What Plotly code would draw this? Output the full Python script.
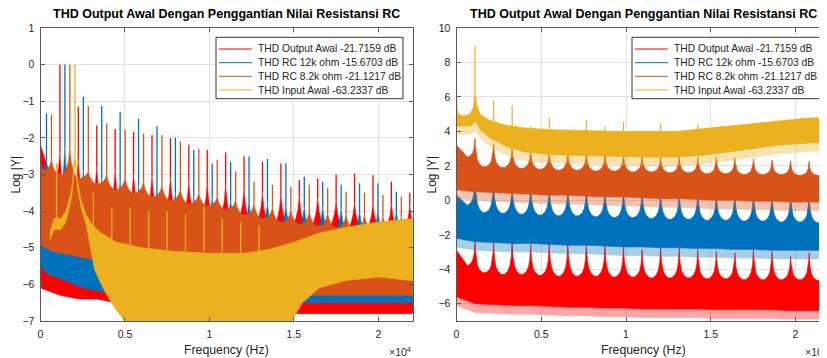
import plotly.graph_objects as go

# ------------------------------------------------------------------ text / categories
TITLE = "THD Output Awal Dengan Penggantian Nilai Resistansi RC"
SERIES_NAMES = ["THD Output Awal -21.7159 dB", "THD RC 12k ohm -15.6703 dB",
                "THD RC 8.2k ohm -21.1217 dB", "THD Input Awal -63.2337 dB"]
X_TICK_VALS = [0, 5000, 10000, 15000, 20000]
X_TICK_TEXT = ["0", "0.5", "1", "1.5", "2"]
L_Y_TICKS = [-7, -6, -5, -4, -3, -2, -1, 0, 1]
R_Y_TICKS = [-6, -4, -2, 0, 2, 4, 6, 8, 10]
F_MAX = 22050

# ------------------------------------------------------------------ LEFT panel data (log|Y|)
# red : THD Output Awal
L_RED_H = [1150, 2240, 3330, 4420, 5510, 6600, 7690, 8780, 9870, 10960,
           12050, 13140, 14230, 15320, 16410, 17500, 18590, 19680, 20770, 21860]
L_RED_SPIKE = [0.0, -1.15, -1.66, -1.76, -1.83, -1.92, -2.01, -2.19, -2.33, -2.40,
               -2.50, -2.65, -2.70, -3.15, -3.10, -3.00, -2.97, -3.02, -3.20, -3.50]
L_RED_CUSP = [-2.4, -2.6, -2.8, -2.9, -3.0, -3.05, -3.1, -3.2, -3.25, -3.3,
              -3.4, -3.5, -3.55, -3.6, -3.65, -3.7, -3.75, -3.8, -3.8, -3.85]
L_RED_TROUGH = [-3.7, -3.8, -3.9, -4.0, -4.05, -4.1, -4.15, -4.2, -4.25, -4.3,
                -4.35, -4.4, -4.4, -4.45, -4.45, -4.5, -4.5, -4.5, -4.5, -4.5]
L_RED_BOTTOM = [-6.3, -6.4, -6.4, -6.5, -6.5, -6.6, -6.6, -6.6, -6.7, -6.7,
                -6.7, -6.7, -6.8, -6.8, -6.8, -6.8, -6.8, -6.8, -6.8, -6.8]
L_RED_START = [-2.2, -3.3, -6.1]          # value at 0 Hz, first trough, first bottom

# blue : THD RC 12k ohm
L_BLUE_H = [355, 1445, 2535, 3625, 4715, 5805, 6895, 7985, 9075, 10165,
            11255, 12345, 13435, 14525, 15615, 16705, 17795, 18885, 19975, 21065]
L_BLUE_SPIKE = [-1.33, 0.0, -0.88, -1.12, -1.29, -1.48, -1.68, -1.99, -2.33, -2.70,
                -2.65, -2.51, -2.58, -2.69, -3.06, -3.20, -3.28, -3.24, -3.24, -3.47]
L_BLUE_CUSP = [-2.6, -2.3, -2.9, -3.1, -3.2, -3.3, -3.4, -3.5, -3.6, -3.65,
               -3.7, -3.75, -3.8, -3.85, -3.9, -3.9, -3.95, -4.0, -4.0, -4.0]
L_BLUE_TROUGH = [-3.6, -3.8, -3.9, -4.0, -4.1, -4.15, -4.2, -4.25, -4.3, -4.35,
                 -4.4, -4.45, -4.5, -4.5, -4.55, -4.55, -4.6, -4.6, -4.6, -4.6]
L_BLUE_BOTTOM = [-5.7, -5.9, -6.1, -6.2, -6.3, -6.4, -6.4, -6.5, -6.5, -6.5,
                 -6.5, -6.5, -6.5, -6.5, -6.5, -6.5, -6.5, -6.5, -6.5, -6.5]
L_BLUE_START = [-2.7, -3.0, -5.5]

# orange : THD RC 8.2k ohm
L_ORA_H = [650, 1740, 2830, 3920, 5010, 6100, 7190, 8280, 9370, 10460,
           11550, 12640, 13730, 14820, 15910, 17000, 18090, 19180, 20270, 21360]
L_ORA_SPIKE = [-1.36, 0.0, -1.13, -1.60, -1.77, -1.88, -1.92, -2.10, -2.30, -2.60,
               -2.92, -3.19, -3.28, -3.33, -3.28, -3.37, -3.47, -3.50, -3.55, -3.60]
L_ORA_CUSP = [-2.6, -2.3, -2.9, -3.0, -3.1, -3.2, -3.3, -3.4, -3.5, -3.6,
              -3.7, -3.8, -3.9, -3.95, -4.0, -4.05, -4.1, -4.1, -4.15, -4.15]
L_ORA_TROUGH = [-3.0, -3.1, -3.25, -3.4, -3.5, -3.6, -3.7, -3.8, -3.85, -3.95,
                -4.1, -4.2, -4.3, -4.35, -4.4, -4.45, -4.5, -4.5, -4.5, -4.5]
L_ORA_BOTTOM = [-5.1, -5.2, -5.3, -5.4, -5.5, -5.6, -5.7, -5.8, -5.9, -5.9,
                -6.0, -6.0, -6.1, -6.2, -6.3, -6.3, -6.3, -6.3, -6.3, -6.3]
L_ORA_START = [-2.8, -2.9, -4.9]

# yellow : THD Input Awal (band outline + spikes)
L_YEL_TOP_F = [550, 800, 1200, 1500, 1750, 1900, 1990, 2090, 2200, 2400, 2700, 3100,
               3600, 4500, 6000, 8000, 10000, 12000, 13500, 15000, 16500, 18000, 20000, 22050]
L_YEL_TOP_V = [-4.6, -4.2, -4.2, -4.0, -3.6, -3.2, -2.6, -2.6, -3.2, -3.7, -4.1, -4.4,
               -4.6, -4.85, -5.0, -5.1, -5.15, -5.15, -5.05, -4.85, -4.6, -4.45, -4.3, -4.2]
L_YEL_BOT_F = [550, 800, 1200, 1500, 1750, 1900, 1990, 2090, 2200, 2400, 2700, 2900,
               3200, 3700, 4200, 4800, 5500, 14500, 15500, 16500, 18000, 20000, 22050]
L_YEL_BOT_V = [-4.8, -4.5, -4.5, -4.3, -3.85, -3.4, -2.8, -2.8, -3.4, -3.9, -4.35, -4.9,
               -5.6, -6.1, -6.5, -6.9, -7.3, -7.3, -6.5, -6.1, -5.9, -5.8, -5.9]
L_YEL_SPK_F = [950, 2040, 3130, 4220, 5310, 6400, 7490, 8580, 9670, 10760, 11850, 12940]
L_YEL_SPK_TOP = [-2.7, 0.0, -3.5, -3.9, -3.9, -4.0, -4.0, -4.1, -3.85, -4.2, -4.3, -4.4]
L_YEL_SPK_BASE = [-4.3, -2.7, -4.45, -4.85, -4.95, -5.0, -5.05, -5.1, -5.1, -5.15, -5.15, -5.15]

# ------------------------------------------------------------------ RIGHT panel data (log|Y|)
R_H = [1095, 2190, 3285, 4380, 5475, 6570, 7665, 8760, 9855, 10950,
       12045, 13140, 14235, 15330, 16425, 17520, 18615, 19710, 20805, 21900]

R_RED_TIP = [-2.4, -2.47, -2.28, -2.57, -2.47, -2.38, -2.47, -2.57, -2.67, -2.86,
             -2.67, -2.77, -2.86, -2.96, -3.05, -2.86, -2.96, -3.25, -3.05, -3.1]
R_RED_TROUGH = [-4.2, -4.3, -4.3, -4.35, -4.4, -4.4, -4.4, -4.45, -4.45, -4.5,
                -4.5, -4.5, -4.55, -4.55, -4.6, -4.6, -4.6, -4.6, -4.65, -4.65]
R_RED_BOTTOM = [-6.0, -6.05, -6.1, -6.1, -6.15, -6.2, -6.2, -6.25, -6.25, -6.3,
                -6.3, -6.3, -6.3, -6.35, -6.35, -6.35, -6.35, -6.4, -6.4, -6.4]
R_RED_START = [-2.9, -3.8, -5.6]

R_BLUE_TIP = [1.3, 1.1, 1.0, 0.95, 0.9, 0.85, 0.8, 0.75, 0.7, 0.65,
              0.6, 0.55, 0.55, 0.5, 0.45, 0.45, 0.4, 0.4, 0.35, 0.35]
R_BLUE_TROUGH = [-0.7, -0.75, -0.8, -0.85, -0.9, -0.9, -0.95, -1.0, -1.0, -1.05,
                 -1.1, -1.1, -1.15, -1.15, -1.2, -1.2, -1.25, -1.25, -1.3, -1.3]
R_BLUE_BOTTOM = [-2.4, -2.45, -2.5, -2.5, -2.55, -2.6, -2.6, -2.65, -2.7, -2.7,
                 -2.75, -2.75, -2.8, -2.8, -2.85, -2.85, -2.9, -2.9, -2.9, -2.9]
R_BLUE_START = [0.3, -0.3, -2.2]

R_ORA_TIP = [3.6, 3.3, 3.2, 3.0, 2.95, 2.9, 2.85, 2.8, 2.75, 2.7,
             2.6, 2.6, 2.5, 2.5, 2.45, 2.4, 2.35, 2.3, 2.25, 2.2]
R_ORA_TROUGH = [1.95, 1.9, 1.85, 1.8, 1.75, 1.75, 1.7, 1.7, 1.65, 1.65,
                1.6, 1.6, 1.55, 1.55, 1.5, 1.5, 1.5, 1.45, 1.45, 1.45]
R_ORA_BOTTOM = [0.5, 0.45, 0.4, 0.35, 0.3, 0.3, 0.25, 0.2, 0.2, 0.15,
                0.1, 0.1, 0.05, 0.0, 0.0, -0.05, -0.05, -0.1, -0.1, -0.1]
R_ORA_START = [3.2, 2.5, 0.6]

R_YEL_TOP_F = [0, 40, 120, 400, 800, 1000, 1060, 1130, 1200, 1400, 1800, 2400, 3000,
               4000, 5500, 7500, 9500, 11500, 13000, 14500, 16000, 17500, 19000, 20500, 22050]
R_YEL_TOP_V = [6.5, 5.3, 5.0, 4.9, 5.0, 5.4, 6.0, 6.0, 5.5, 5.0, 4.7, 4.5, 4.35,
               4.2, 4.1, 4.05, 4.0, 4.0, 4.0, 4.15, 4.3, 4.45, 4.6, 4.75, 4.85]
R_YEL_BOT_F = [0, 300, 900, 1100, 1400, 2000, 3000, 4000, 5500, 7500, 9500, 11500,
               13000, 14500, 16000, 17500, 19000, 20500, 22050]
R_YEL_BOT_V = [4.3, 4.3, 4.35, 4.6, 4.1, 3.6, 3.1, 2.8, 2.65, 2.6, 2.55, 2.5,
               2.5, 2.6, 2.8, 3.0, 3.2, 3.3, 3.4]
R_YEL_SPK_F = [1095, 2190, 3285, 4380, 5475, 6570, 7665, 8760, 9855, 12045, 14235]
R_YEL_SPK_TOP = [9.0, 5.8, 5.5, 4.3, 4.8, 4.1, 4.65, 4.3, 4.55, 4.5, 4.4]
R_YEL_SPK_BASE = [5.5, 4.5, 4.3, 4.1, 4.0, 3.9, 3.9, 3.9, 3.9, 3.9, 4.0]

# ------------------------------------------------------------------ style
C_RED, C_BLUE, C_ORANGE, C_YELLOW = "#FF0000", "#0072BD", "#D95319", "#EDB120"
COLORS = [C_RED, C_BLUE, C_ORANGE, C_YELLOW]
FONT = "Liberation Sans, Arial, sans-serif"
TXT = "#262626"
AXC = "#5a5a5a"
GRID = "#e2e2e2"
OFF = 8                       # page body margin of the html page
W, HPX = 827 - OFF, 358 - OFF
# cusp shape around each harmonic: (Hz offset, fraction of the way trough -> peak)
PROF_R = [(450, 0.0), (250, 0.1), (130, 0.25), (50, 0.5), (15, 0.75)]
PROF_L = [(380, 0.0), (200, 0.25), (80, 0.55), (25, 0.85)]
FRINGE_DOWN = 0.5       # noisy lower fringe of the right-panel bands (style)
FRINGE_OPACITY = 0.35


def px(x):
    return (x - OFF) / W


def py(y):
    return 1 - (y - OFF) / HPX


def band_edges(h, peaks, troughs, bottoms, start, prof, fmax=F_MAX):
    s_top, s_trough, s_bot = start
    xs, ys = [0.0], [s_top]
    left = s_trough
    for f0, pk, right in zip(h, peaks, troughs):
        for off, fr in prof:
            f = f0 - off
            if 0 < f < fmax:
                xs.append(f); ys.append(left + fr * (pk - left))
        xs.append(f0); ys.append(pk)
        for off, fr in reversed(prof):
            f = f0 + off
            if 0 < f < fmax:
                xs.append(f); ys.append(right + fr * (pk - right))
        left = right
    xs.append(fmax); ys.append(left)
    bx = [0.0] + list(h) + [fmax]
    by = [s_bot] + list(bottoms) + [bottoms[-1]]
    return xs, ys, bx, by


def spikes(fs, bases, tops):
    xs, ys = [], []
    for f, b, t in zip(fs, bases, tops):
        xs += [f, f, None]
        ys += [b, t, None]
    return xs, ys


fig = go.Figure()


def add_fill(xs, ys, color, xa, ya, opacity=1.0):
    fig.add_trace(go.Scatter(x=xs, y=ys, mode="lines", fill="toself", fillcolor=color,
                             line=dict(color=color, width=0.6), hoverinfo="skip",
                             opacity=opacity, showlegend=False, xaxis=xa, yaxis=ya))


def add_spikes(xs, ys, color, xa, ya, w=1.3):
    fig.add_trace(go.Scatter(x=xs, y=ys, mode="lines", line=dict(color=color, width=w),
                             hoverinfo="skip", showlegend=False, xaxis=xa, yaxis=ya,
                             connectgaps=False))


def add_band(tx, ty, bx, by, col, xa, ya, fringe=True):
    if fringe:
        fy = [v - FRINGE_DOWN for v in by]
        add_fill(tx + bx[::-1], ty + fy[::-1], col, xa, ya, opacity=FRINGE_OPACITY)
    add_fill(tx + bx[::-1], ty + by[::-1], col, xa, ya)


# ---------------- left panel (draw order red, blue, orange, yellow)
for H, SP, CU, TR, BO, ST, col in [
        (L_RED_H, L_RED_SPIKE, L_RED_CUSP, L_RED_TROUGH, L_RED_BOTTOM, L_RED_START, C_RED),
        (L_BLUE_H, L_BLUE_SPIKE, L_BLUE_CUSP, L_BLUE_TROUGH, L_BLUE_BOTTOM, L_BLUE_START, C_BLUE),
        (L_ORA_H, L_ORA_SPIKE, L_ORA_CUSP, L_ORA_TROUGH, L_ORA_BOTTOM, L_ORA_START, C_ORANGE)]:
    tx, ty, bx, by = band_edges(H, CU, TR, BO, ST, PROF_L)
    add_band(tx, ty, bx, by, col, "x", "y", fringe=False)
    sx, sy = spikes(H, CU, SP)
    add_spikes(sx, sy, col, "x", "y")

add_fill(L_YEL_TOP_F + L_YEL_BOT_F[::-1], L_YEL_TOP_V + L_YEL_BOT_V[::-1], C_YELLOW, "x", "y")
sx, sy = spikes(L_YEL_SPK_F, L_YEL_SPK_BASE, L_YEL_SPK_TOP)
add_spikes(sx, sy, C_YELLOW, "x", "y")

# ---------------- right panel
for TP, TR, BO, ST, col in [
        (R_RED_TIP, R_RED_TROUGH, R_RED_BOTTOM, R_RED_START, C_RED),
        (R_BLUE_TIP, R_BLUE_TROUGH, R_BLUE_BOTTOM, R_BLUE_START, C_BLUE),
        (R_ORA_TIP, R_ORA_TROUGH, R_ORA_BOTTOM, R_ORA_START, C_ORANGE)]:
    tx, ty, bx, by = band_edges(R_H, TP, TR, BO, ST, PROF_R)
    add_band(tx, ty, bx, by, col, "x2", "y2")

add_band(R_YEL_TOP_F, R_YEL_TOP_V, R_YEL_BOT_F, R_YEL_BOT_V, C_YELLOW, "x2", "y2")
sx, sy = spikes(R_YEL_SPK_F, R_YEL_SPK_BASE, R_YEL_SPK_TOP)
add_spikes(sx, sy, C_YELLOW, "x2", "y2", w=1.2)

# ---------------- axes
ax_common = dict(showline=True, linecolor=AXC, linewidth=1, ticks="inside", ticklen=4,
                 tickcolor=AXC, showgrid=True, gridcolor=GRID, gridwidth=1, zeroline=False,
                 tickfont=dict(family=FONT, size=10.5, color=TXT), ticklabelstandoff=3,
                 automargin=False)
Y_DOM = [py(321), py(28)]
fig.update_layout(
    width=W, height=HPX, margin=dict(l=0, r=0, t=0, b=0, pad=0, autoexpand=False),
    paper_bgcolor="white", plot_bgcolor="white", showlegend=False,
    xaxis=dict(domain=[px(40.5), px(413)], range=[0, F_MAX], tickvals=X_TICK_VALS,
               ticktext=X_TICK_TEXT, mirror="ticks", anchor="y", **ax_common),
    yaxis=dict(domain=Y_DOM, range=[-7, 1], tickvals=L_Y_TICKS, mirror="ticks",
               anchor="x", **ax_common),
    xaxis2=dict(domain=[px(456.5), 1.0], range=[0, 21858], tickvals=X_TICK_VALS,
                ticktext=X_TICK_TEXT, mirror="ticks", anchor="y2", **ax_common),
    yaxis2=dict(domain=Y_DOM, range=[-7, 10], tickvals=R_Y_TICKS, mirror=False,
                anchor="x2", **ax_common),
)

ann = []
shapes = []


def text(x, y, s, size, xanchor="center", bold=False, angle=0):
    ann.append(dict(x=px(x), y=py(y), xref="paper", yref="paper", text=s, showarrow=False,
                    xanchor=xanchor, yanchor="middle", textangle=angle,
                    font=dict(family=FONT, size=size, color="#000000" if bold else TXT)))


for cx in (226.75, 643):
    text(cx, 14, "<b>" + TITLE + "</b>", 12.5, bold=True)
for cx in (226.75, 643):
    text(cx, 350, "Frequency (Hz)", 12.3)
text(15, 174.5, "Log |Y|", 12, angle=-90)
text(431, 174.5, "Log |Y|", 12, angle=-90)
text(413, 351, "×10<sup>4</sup>", 10.5, xanchor="right")
text(803, 351, "×10<sup>4</sup>", 10.5, xanchor="left")

# legends
ROWS = [49, 62.7, 76.3, 90]
for bx0, bx1 in ((216, 403), (632, 825)):
    shapes.append(dict(type="rect", xref="paper", yref="paper", x0=px(bx0), x1=px(bx1),
                       y0=py(98.7), y1=py(37.3), line=dict(color="#333333", width=1),
                       fillcolor="white"))
    for r, col, name in zip(ROWS, COLORS, SERIES_NAMES):
        shapes.append(dict(type="line", xref="paper", yref="paper", x0=px(bx0 + 3),
                           x1=px(bx0 + 36), y0=py(r), y1=py(r), line=dict(color=col, width=1)))
        text(bx0 + 39.5, r, name, 10.3, xanchor="left")

fig.update_layout(annotations=ann, shapes=shapes)
fig.write_html("out.html")
